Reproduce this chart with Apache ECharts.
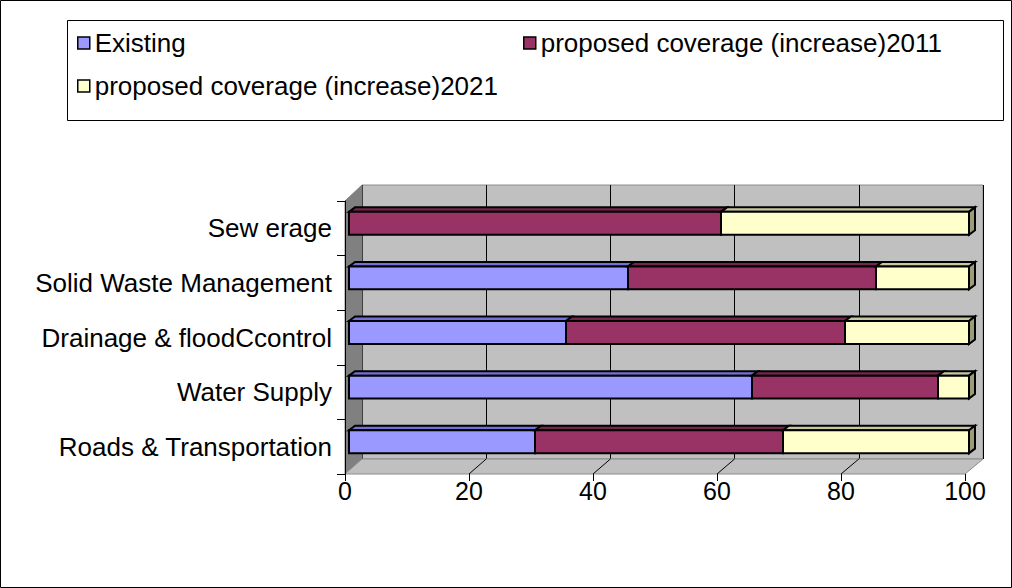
<!DOCTYPE html>
<html>
<head>
<meta charset="utf-8">
<script src="https://cdn.jsdelivr.net/npm/echarts@6/dist/echarts.min.js"></script>
<style>
  html, body { margin: 0; padding: 0; background: #fff; }
  #chart { width: 1012px; height: 588px; }
</style>
</head>
<body>
<div id="chart"></div>
<script>
// data
const categories = ['Roads & Transportation', 'Water Supply', 'Drainage & floodCcontrol', 'Solid Waste Management', 'Sew erage'];
const existing = [30, 65, 35, 45, 0];
const coverage2011 = [40, 30, 45, 40, 60];
const coverage2021 = [30, 5, 20, 15, 40];
const seriesNames = ['Existing', 'proposed coverage (increase)2011', 'proposed coverage (increase)2021'];
const xMin = 0, xMax = 100, xStep = 20;

// layout of the fake 3D box
const FONT = 'Liberation Sans, Arial, sans-serif';
const BACK = { l: 362, t: 185, r: 983, b: 459 };
const FRONT = { l: 345, t: 201, r: 965, b: 474 };
const DEPTH = { dx: 6, dy: 4.5 };

const faces = [
  { front: '#9999ff', top: '#7171d9', end: '#6c6cc0' },
  { front: '#993366', top: '#76264e', end: '#6b2448' },
  { front: '#ffffcc', top: '#c8c8a0', end: '#9c9c78' }
];

const chart = echarts.init(document.getElementById('chart'), null, { renderer: 'svg' });

// stacked start / end per segment
function stackData(k) {
  const all = [existing, coverage2011, coverage2021];
  return categories.map((c, i) => {
    let start = 0;
    for (let j = 0; j < k; j++) start += all[j][i];
    return [i, start, start + all[k][i]];
  });
}

function makeRender(k) {
  const last = k === 2;
  return function (params, api) {
    const cat = api.value(0);
    const start = api.value(1);
    const end = api.value(2);
    if (end - start <= 0) return null;
    const p0 = api.coord([start, cat]);
    const p1 = api.coord([end, cat]);
    const h = api.size([0, 1])[1] * 0.42;
    const yT = p0[1] - h / 2, yB = p0[1] + h / 2;
    const x0 = p0[0], x1 = p1[0];
    const stroke = { stroke: '#000', lineWidth: 2, lineJoin: 'miter' };
    const children = [
      {
        type: 'polygon',
        shape: { points: [[x0, yT], [x0 + DEPTH.dx, yT - DEPTH.dy], [x1 + DEPTH.dx, yT - DEPTH.dy], [x1, yT]] },
        style: Object.assign({ fill: faces[k].top }, stroke)
      },
      {
        type: 'rect',
        shape: { x: x0, y: yT, width: x1 - x0, height: h },
        style: Object.assign({ fill: faces[k].front }, stroke)
      }
    ];
    if (last) {
      children.push({
        type: 'polygon',
        shape: { points: [[x1, yT], [x1 + DEPTH.dx, yT - DEPTH.dy], [x1 + DEPTH.dx, yB - DEPTH.dy], [x1, yB]] },
        style: Object.assign({ fill: faces[k].end }, stroke)
      });
    }
    return { type: 'group', children: children };
  };
}

const labelStyle = { color: '#000', fontSize: 26, fontFamily: FONT };
const tickStyle = { color: '#000', fontSize: 25, fontFamily: FONT };

chart.setOption({
  animation: false,
  backgroundColor: '#fff',
  textStyle: { fontFamily: FONT },
  legend: [
    { data: [seriesNames[0]], left: 77, top: 30 },
    { data: [seriesNames[1]], left: 523, top: 30 },
    { data: [seriesNames[2]], left: 77, top: 73 }
  ].map(l => Object.assign(l, {
    icon: 'rect', itemWidth: 12, itemHeight: 12, selectedMode: false, padding: 0,
    itemStyle: { borderColor: '#000', borderWidth: 1.5 },
    textStyle: labelStyle
  })),
  grid: [
    // back wall
    { left: BACK.l, right: 1012 - BACK.r, top: BACK.t, bottom: 588 - BACK.b,
      show: true, backgroundColor: '#c0c0c0', borderColor: '#8c8c8c', borderWidth: 1, z: 0 },
    // front frame with the axes
    { left: FRONT.l, right: 1012 - FRONT.r, top: FRONT.t, bottom: 588 - FRONT.b },
    // bars
    { left: 349, right: 1012 - 969, top: 196, bottom: 588 - 469 }
  ],
  xAxis: [
    { gridIndex: 0, type: 'value', min: xMin, max: xMax, interval: xStep,
      axisLine: { show: false }, axisTick: { show: false }, axisLabel: { show: false },
      splitLine: { lineStyle: { color: '#000', width: 1 } } },
    { gridIndex: 1, type: 'value', min: xMin, max: xMax, interval: xStep, z: 6,
      axisLine: { lineStyle: { color: '#000', width: 1 } },
      axisTick: { show: true, length: 7, lineStyle: { color: '#000' } },
      axisLabel: Object.assign({ margin: 4 }, tickStyle),
      splitLine: { show: false } },
    { gridIndex: 2, type: 'value', min: xMin, max: xMax, show: false }
  ],
  yAxis: [
    { gridIndex: 0, type: 'category', data: categories, show: false },
    { gridIndex: 1, type: 'category', data: categories, z: 6,
      axisLine: { lineStyle: { color: '#000', width: 1 } },
      axisTick: { show: true, length: 8, lineStyle: { color: '#000' } },
      axisLabel: Object.assign({ margin: 13 }, labelStyle) },
    { gridIndex: 2, type: 'category', data: categories, show: false }
  ],
  series: seriesNames.map((name, k) => ({
    name: name,
    type: 'custom',
    xAxisIndex: 2,
    yAxisIndex: 2,
    z: 10,
    itemStyle: { color: faces[k].front, borderColor: '#000', borderWidth: 1.5 },
    encode: { y: 0, x: [1, 2] },
    renderItem: makeRender(k),
    data: stackData(k)
  }))
});

// walls, floor, legend box and frame
const graphics = [
  { type: 'rect', z: 0, silent: true,
    shape: { x: 0.5, y: 0.5, width: 1011, height: 587 },
    style: { fill: null, stroke: '#000', lineWidth: 1 } },
  { type: 'rect', z: 0, silent: true,
    shape: { x: 67.5, y: 20.5, width: 936, height: 100 },
    style: { fill: '#fff', stroke: '#000', lineWidth: 1 } },
  { type: 'polygon', z: 1, silent: true,
    shape: { points: [[FRONT.l, FRONT.t], [BACK.l, BACK.t], [BACK.l, BACK.b], [FRONT.l, FRONT.b]] },
    style: { fill: '#808080', stroke: '#808080', lineWidth: 1 } },
  { type: 'polygon', z: 1, silent: true,
    shape: { points: [[FRONT.l, FRONT.b], [FRONT.r, FRONT.b], [BACK.r, BACK.b], [BACK.l, BACK.b]] },
    style: { fill: '#c0c0c0', stroke: '#8c8c8c', lineWidth: 1 } }
];
for (let v = xMin + xStep; v <= xMax - xStep; v += xStep) {
  const xf = chart.convertToPixel({ xAxisIndex: 1 }, v);
  const xb = chart.convertToPixel({ xAxisIndex: 0 }, v);
  graphics.push({ type: 'line', z: 2, silent: true,
    shape: { x1: xf, y1: FRONT.b, x2: xb, y2: BACK.b },
    style: { stroke: '#000', lineWidth: 1 } });
}
chart.setOption({ graphic: graphics });
</script>
</body>
</html>
